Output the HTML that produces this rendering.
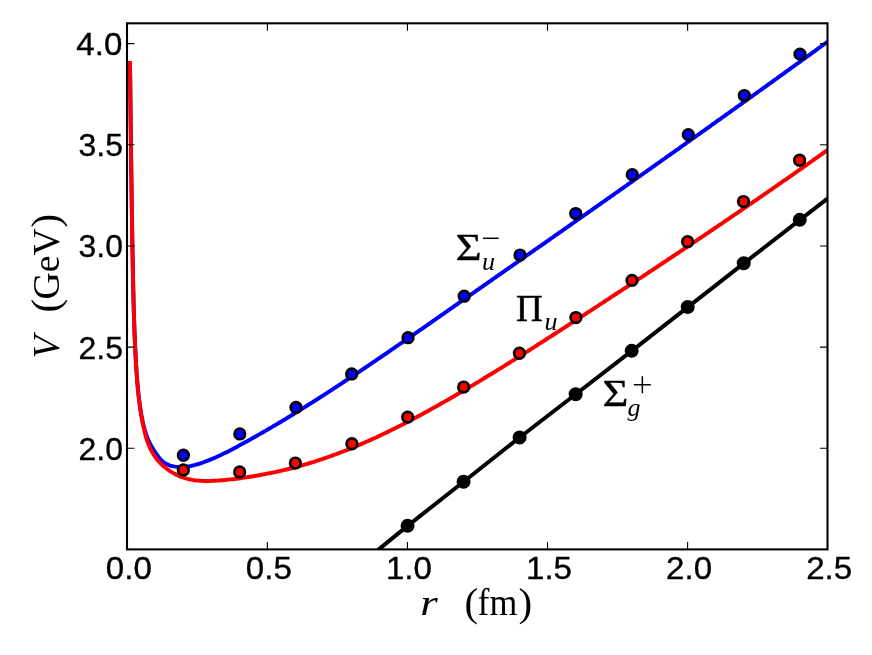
<!DOCTYPE html>
<html><head><meta charset="utf-8"><title>V(r)</title>
<style>html,body{margin:0;padding:0;background:#fff}svg{display:block;will-change:transform}</style></head>
<body>
<svg width="872" height="655" viewBox="0 0 872 655">
<rect width="872" height="655" fill="#fff"/>
<defs><clipPath id="ax"><rect x="127.0" y="23.3" width="700.5" height="526.1"/></clipPath></defs>
<g clip-path="url(#ax)" fill="none" stroke-linejoin="round" stroke-linecap="butt">
<path d="M376.60,551.35 L378.50,549.65 L392.50,538.15 L407.60,525.85 L463.60,481.75 L519.60,437.45 L575.70,394.25 L631.80,350.85 L687.80,307.15 L743.80,263.35 L799.90,219.85 L827.50,198.55" stroke="#000" stroke-width="3.95"/>
<circle cx="407.55" cy="525.85" r="5.65" fill="#000" stroke="#000" stroke-width="2.7"/>
<circle cx="463.58" cy="481.75" r="5.65" fill="#000" stroke="#000" stroke-width="2.7"/>
<circle cx="519.61" cy="437.45" r="5.65" fill="#000" stroke="#000" stroke-width="2.7"/>
<circle cx="575.64" cy="394.25" r="5.65" fill="#000" stroke="#000" stroke-width="2.7"/>
<circle cx="631.67" cy="350.85" r="5.65" fill="#000" stroke="#000" stroke-width="2.7"/>
<circle cx="687.70" cy="307.05" r="5.65" fill="#000" stroke="#000" stroke-width="2.7"/>
<circle cx="743.73" cy="263.25" r="5.65" fill="#000" stroke="#000" stroke-width="2.7"/>
<circle cx="799.76" cy="219.85" r="5.65" fill="#000" stroke="#000" stroke-width="2.7"/>
<path d="M129.98,60.96 L130.01,62.92 L130.03,64.88 L130.05,66.84 L130.07,68.80 L130.09,70.76 L130.12,72.72 L130.14,74.68 L130.16,76.64 L130.18,78.59 L130.20,80.55 L130.23,82.51 L130.25,84.47 L130.27,86.42 L130.29,88.38 L130.31,90.34 L130.34,92.29 L130.36,94.25 L130.38,96.20 L130.40,98.16 L130.42,100.11 L130.45,102.07 L130.47,104.02 L130.49,105.97 L130.51,107.93 L130.54,109.88 L130.56,111.83 L130.58,113.79 L130.60,115.74 L130.63,117.69 L130.65,119.65 L130.67,121.60 L130.69,123.55 L130.72,125.50 L130.74,127.45 L130.76,129.40 L130.79,131.36 L130.81,133.31 L130.83,135.26 L130.86,137.21 L130.88,139.16 L130.90,141.11 L130.93,143.06 L130.95,145.01 L130.98,146.96 L131.00,148.91 L131.02,150.86 L131.05,152.81 L131.07,154.76 L131.10,156.71 L131.12,158.66 L131.15,160.61 L131.17,162.56 L131.20,164.51 L131.22,166.46 L131.25,168.41 L131.27,170.35 L131.30,172.30 L131.32,174.25 L131.35,176.20 L131.38,178.15 L131.40,180.10 L131.43,182.05 L131.46,184.00 L131.48,185.95 L131.51,187.90 L131.54,189.85 L131.57,191.79 L131.59,193.74 L131.62,195.69 L131.65,197.64 L131.68,199.59 L131.71,201.54 L131.74,203.49 L131.76,205.44 L131.79,207.39 L131.82,209.34 L131.85,211.29 L131.88,213.24 L131.91,215.19 L131.94,217.14 L131.97,219.09 L132.00,221.04 L132.03,222.99 L132.07,224.94 L132.10,226.89 L132.13,228.84 L132.16,230.79 L132.19,232.74 L132.23,234.70 L132.26,236.65 L132.29,238.60 L132.33,240.55 L132.36,242.50 L132.39,244.46 L132.43,246.41 L132.46,248.36 L132.50,250.31 L132.53,252.27 L132.57,254.22 L132.60,256.17 L132.64,258.13 L132.68,260.08 L132.71,262.04 L132.75,263.99 L132.79,265.95 L132.82,267.90 L132.86,269.86 L132.90,271.81 L132.94,273.77 L132.98,275.73 L133.02,277.68 L133.06,279.64 L133.10,281.60 L133.14,283.55 L133.18,285.51 L133.22,287.47 L133.27,289.43 L133.31,291.38 L133.36,293.34 L133.40,295.30 L133.45,297.26 L133.50,299.22 L133.55,301.17 L133.60,303.13 L133.65,305.09 L133.71,307.05 L133.76,309.00 L133.82,310.96 L133.87,312.92 L133.93,314.88 L133.99,316.83 L134.05,318.79 L134.12,320.75 L134.18,322.71 L134.25,324.66 L134.32,326.62 L134.39,328.57 L134.46,330.53 L134.54,332.48 L134.61,334.44 L134.69,336.39 L134.77,338.35 L134.85,340.30 L134.94,342.26 L135.03,344.21 L135.12,346.16 L135.21,348.11 L135.30,350.06 L135.40,352.02 L135.50,353.97 L135.60,355.92 L135.71,357.87 L135.81,359.82 L135.92,361.76 L136.04,363.71 L136.15,365.66 L136.27,367.60 L136.40,369.55 L136.53,371.50 L136.66,373.44 L136.80,375.38 L136.94,377.33 L137.09,379.27 L137.25,381.21 L137.41,383.15 L137.58,385.09 L137.75,387.03 L137.93,388.97 L138.12,390.90 L138.32,392.84 L138.53,394.77 L138.75,396.71 L138.97,398.64 L139.20,400.57 L139.45,402.51 L139.70,404.44 L139.97,406.36 L140.24,408.29 L140.53,410.22 L140.82,412.15 L141.13,414.07 L141.64,416.32 L141.94,417.90 L142.25,419.48 L142.58,421.05 L142.92,422.62 L143.28,424.18 L143.65,425.74 L144.05,427.30 L144.46,428.84 L144.90,430.38 L145.37,431.92 L145.86,433.44 L146.37,434.96 L146.92,436.47 L147.50,437.96 L148.11,439.45 L148.76,440.93 L149.44,442.39 L150.17,443.84 L150.93,445.28 L151.72,446.70 L152.55,448.11 L153.41,449.50 L154.29,450.89 L155.19,452.25 L156.11,453.60 L157.05,454.94 L158.00,456.25 L158.99,457.52 L160.01,458.75 L161.09,459.91 L162.22,461.00 L163.42,462.00 L164.70,462.90 L166.06,463.71 L167.47,464.42 L168.95,465.04 L170.47,465.57 L172.03,466.01 L173.62,466.37 L175.23,466.66 L176.85,466.87 L178.47,467.00 L180.09,467.07 L181.71,467.07 L183.31,467.00 L184.91,466.88 L186.50,466.71 L188.08,466.48 L189.66,466.20 L191.22,465.89 L192.79,465.53 L194.34,465.14 L195.89,464.71 L197.43,464.26 L198.96,463.79 L200.49,463.29 L202.02,462.77 L203.53,462.24 L205.05,461.69 L206.55,461.13 L208.05,460.55 L209.55,459.96 L211.04,459.35 L212.52,458.73 L214.00,458.09 L215.48,457.44 L216.95,456.79 L218.42,456.12 L219.88,455.43 L221.34,454.74 L222.80,454.04 L224.25,453.33 L225.70,452.62 L227.14,451.89 L228.58,451.16 L230.02,450.42 L231.46,449.67 L232.89,448.92 L234.32,448.17 L235.75,447.41 L237.18,446.64 L238.60,445.88 L240.03,445.11 L241.45,444.33 L242.86,443.56 L244.28,442.78 L245.70,442.00 L247.11,441.22 L248.52,440.44 L249.93,439.66 L251.34,438.87 L252.75,438.08 L254.15,437.29 L255.56,436.50 L256.96,435.71 L258.36,434.91 L259.76,434.12 L261.16,433.32 L262.56,432.52 L263.95,431.71 L265.34,430.91 L266.74,430.10 L268.13,429.29 L269.52,428.48 L270.90,427.67 L272.29,426.86 L273.68,426.04 L275.06,425.23 L276.44,424.41 L277.82,423.59 L279.20,422.77 L280.58,421.94 L281.96,421.12 L283.34,420.29 L284.71,419.46 L286.08,418.63 L287.46,417.80 L288.83,416.97 L290.20,416.13 L291.57,415.29 L292.94,414.46 L294.30,413.62 L295.67,412.78 L297.04,411.93 L298.40,411.09 L299.76,410.25 L301.12,409.40 L302.49,408.55 L303.85,407.70 L305.21,406.85 L306.56,406.00 L307.92,405.15 L309.28,404.29 L310.63,403.43 L311.99,402.58 L313.34,401.72 L314.70,400.86 L316.05,400.00 L317.40,399.13 L318.75,398.27 L320.10,397.40 L321.45,396.54 L322.80,395.67 L324.15,394.80 L325.50,393.93 L326.84,393.06 L328.19,392.19 L329.53,391.31 L330.88,390.44 L332.22,389.56 L333.57,388.69 L334.91,387.81 L336.25,386.93 L337.60,386.05 L338.94,385.17 L340.28,384.29 L341.62,383.40 L342.96,382.52 L344.30,381.63 L345.64,380.75 L346.98,379.86 L348.32,378.97 L349.66,378.08 L351.00,377.19 L352.34,376.30 L353.67,375.41 L355.01,374.52 L356.35,373.63 L357.69,372.73 L359.02,371.84 L360.36,370.94 L361.70,370.04 L363.03,369.15 L364.37,368.25 L365.70,367.35 L367.04,366.45 L368.37,365.55 L369.71,364.65 L371.04,363.75 L372.38,362.84 L373.71,361.94 L375.04,361.04 L376.38,360.13 L377.71,359.23 L379.04,358.32 L380.38,357.41 L381.71,356.50 L383.04,355.60 L384.37,354.69 L385.70,353.78 L387.03,352.87 L388.37,351.96 L389.70,351.05 L391.03,350.14 L392.36,349.22 L393.69,348.31 L395.02,347.40 L396.35,346.48 L397.68,345.57 L399.01,344.65 L400.33,343.74 L401.66,342.82 L402.99,341.91 L404.32,340.99 L405.65,340.07 L406.98,339.16 L408.30,338.24 L409.63,337.32 L410.96,336.40 L412.28,335.48 L413.61,334.56 L414.94,333.64 L416.26,332.72 L417.59,331.80 L418.92,330.88 L420.24,329.96 L421.57,329.04 L422.89,328.12 L424.22,327.20 L425.54,326.27 L426.87,325.35 L428.19,324.43 L429.52,323.51 L430.84,322.58 L432.17,321.66 L433.49,320.74 L434.81,319.81 L436.14,318.89 L437.46,317.97 L438.78,317.04 L440.11,316.12 L441.43,315.19 L442.75,314.27 L444.07,313.35 L445.40,312.42 L446.72,311.50 L448.04,310.57 L449.36,309.65 L450.68,308.72 L452.01,307.80 L453.33,306.87 L454.65,305.95 L455.97,305.02 L457.29,304.10 L458.61,303.18 L459.93,302.25 L461.25,301.33 L462.57,300.40 L463.89,299.48 L465.21,298.55 L466.53,297.63 L467.85,296.71 L469.17,295.78 L470.49,294.86 L471.81,293.93 L473.13,293.01 L474.45,292.09 L475.77,291.16 L477.09,290.24 L478.41,289.32 L479.73,288.40 L481.04,287.47 L482.36,286.55 L483.68,285.63 L485.00,284.71 L486.32,283.78 L487.63,282.86 L488.95,281.94 L490.27,281.02 L491.59,280.10 L492.91,279.17 L494.22,278.25 L495.54,277.33 L496.86,276.41 L498.18,275.49 L499.49,274.57 L500.81,273.65 L502.13,272.73 L503.44,271.80 L504.76,270.88 L506.08,269.96 L507.39,269.04 L508.71,268.12 L510.03,267.20 L511.34,266.28 L512.66,265.36 L513.97,264.44 L515.29,263.52 L516.61,262.60 L517.92,261.68 L519.24,260.76 L520.55,259.84 L521.87,258.92 L523.19,258.00 L524.50,257.08 L525.82,256.16 L527.13,255.24 L528.45,254.31 L529.76,253.39 L531.08,252.47 L532.40,251.55 L533.71,250.63 L535.03,249.71 L536.34,248.79 L537.66,247.87 L538.97,246.95 L540.29,246.03 L541.60,245.11 L542.92,244.19 L544.23,243.27 L545.55,242.35 L546.86,241.43 L548.18,240.51 L549.49,239.59 L550.81,238.67 L552.12,237.75 L553.44,236.83 L554.75,235.90 L556.07,234.98 L557.38,234.06 L558.70,233.14 L560.01,232.22 L561.33,231.30 L562.64,230.38 L563.96,229.46 L565.27,228.53 L566.59,227.61 L567.90,226.69 L569.22,225.77 L570.53,224.85 L571.84,223.92 L573.16,223.00 L574.47,222.08 L575.79,221.16 L577.10,220.24 L578.42,219.31 L579.73,218.39 L581.05,217.47 L582.36,216.54 L583.68,215.62 L584.99,214.70 L586.31,213.77 L587.62,212.85 L588.94,211.93 L590.25,211.00 L591.57,210.08 L592.88,209.15 L594.20,208.23 L595.51,207.30 L596.83,206.38 L598.15,205.45 L599.46,204.53 L600.78,203.60 L602.09,202.68 L603.41,201.75 L604.72,200.83 L606.04,199.90 L607.35,198.98 L608.67,198.05 L609.98,197.12 L611.30,196.20 L612.62,195.27 L613.93,194.34 L615.25,193.42 L616.56,192.49 L617.88,191.56 L619.19,190.63 L620.51,189.71 L621.82,188.78 L623.14,187.85 L624.45,186.92 L625.77,186.00 L627.09,185.07 L628.40,184.14 L629.72,183.21 L631.03,182.28 L632.35,181.35 L633.66,180.42 L634.98,179.50 L636.29,178.57 L637.61,177.64 L638.93,176.71 L640.24,175.78 L641.56,174.85 L642.87,173.92 L644.19,172.99 L645.50,172.06 L646.82,171.13 L648.13,170.20 L649.45,169.27 L650.76,168.34 L652.08,167.41 L653.39,166.47 L654.71,165.54 L656.02,164.61 L657.34,163.68 L658.65,162.75 L659.97,161.82 L661.28,160.89 L662.60,159.96 L663.91,159.02 L665.23,158.09 L666.54,157.16 L667.86,156.23 L669.17,155.30 L670.49,154.36 L671.80,153.43 L673.11,152.50 L674.43,151.57 L675.74,150.63 L677.06,149.70 L678.37,148.77 L679.69,147.83 L681.00,146.90 L682.31,145.97 L683.63,145.03 L684.94,144.10 L686.26,143.17 L687.57,142.23 L688.88,141.30 L690.20,140.36 L691.51,139.43 L692.82,138.50 L694.14,137.56 L695.45,136.63 L696.76,135.69 L698.08,134.76 L699.39,133.82 L700.70,132.89 L702.02,131.95 L703.33,131.02 L704.64,130.08 L705.95,129.15 L707.27,128.21 L708.58,127.28 L709.89,126.34 L711.20,125.41 L712.51,124.47 L713.83,123.54 L715.14,122.60 L716.45,121.66 L717.76,120.73 L719.07,119.79 L720.39,118.86 L721.70,117.92 L723.01,116.98 L724.32,116.05 L725.63,115.11 L726.94,114.17 L728.25,113.24 L729.56,112.30 L730.87,111.36 L732.18,110.43 L733.49,109.49 L734.80,108.55 L736.11,107.62 L737.42,106.68 L738.73,105.74 L740.04,104.80 L741.35,103.87 L742.66,102.93 L743.97,101.99 L745.28,101.05 L746.59,100.12 L747.90,99.18 L749.21,98.24 L750.52,97.30 L751.83,96.36 L753.13,95.43 L754.44,94.49 L755.75,93.55 L757.06,92.61 L758.37,91.67 L759.67,90.74 L760.98,89.80 L762.29,88.86 L763.60,87.92 L764.90,86.98 L766.21,86.04 L767.52,85.10 L768.82,84.17 L770.13,83.23 L771.44,82.29 L772.74,81.35 L774.05,80.41 L775.35,79.47 L776.66,78.53 L777.96,77.59 L779.27,76.65 L780.57,75.71 L781.88,74.78 L783.18,73.84 L784.49,72.90 L785.79,71.96 L787.10,71.02 L788.40,70.08 L789.71,69.14 L791.01,68.20 L792.31,67.26 L793.62,66.32 L794.92,65.38 L796.22,64.44 L797.52,63.50 L798.83,62.56 L800.13,61.62 L801.43,60.68 L802.73,59.74 L804.03,58.80 L805.34,57.86 L806.64,56.92 L807.94,55.98 L809.24,55.04 L810.54,54.10 L811.84,53.16 L813.14,52.22 L814.44,51.28 L815.74,50.34 L817.04,49.40 L818.34,48.46 L819.64,47.52 L820.94,46.58 L822.24,45.64 L823.54,44.70 L824.83,43.76 L826.13,42.82 L827.43,41.88" stroke="#0000ff" stroke-width="3.95"/>
<circle cx="183.40" cy="455.25" r="5.3" fill="#0000ff" stroke="#000" stroke-width="2.7"/>
<circle cx="239.80" cy="433.95" r="5.3" fill="#0000ff" stroke="#000" stroke-width="2.7"/>
<circle cx="296.00" cy="407.45" r="5.3" fill="#0000ff" stroke="#000" stroke-width="2.7"/>
<circle cx="351.65" cy="373.95" r="5.3" fill="#0000ff" stroke="#000" stroke-width="2.7"/>
<circle cx="408.00" cy="337.70" r="5.3" fill="#0000ff" stroke="#000" stroke-width="2.7"/>
<circle cx="464.20" cy="296.20" r="5.3" fill="#0000ff" stroke="#000" stroke-width="2.7"/>
<circle cx="520.00" cy="255.05" r="5.3" fill="#0000ff" stroke="#000" stroke-width="2.7"/>
<circle cx="575.70" cy="213.55" r="5.3" fill="#0000ff" stroke="#000" stroke-width="2.7"/>
<circle cx="632.25" cy="174.65" r="5.3" fill="#0000ff" stroke="#000" stroke-width="2.7"/>
<circle cx="688.30" cy="134.65" r="5.3" fill="#0000ff" stroke="#000" stroke-width="2.7"/>
<circle cx="744.30" cy="95.55" r="5.3" fill="#0000ff" stroke="#000" stroke-width="2.7"/>
<circle cx="800.00" cy="54.15" r="5.3" fill="#0000ff" stroke="#000" stroke-width="2.7"/>
<path d="M129.98,60.96 L130.01,62.92 L130.03,64.88 L130.05,66.84 L130.07,68.80 L130.09,70.76 L130.12,72.72 L130.14,74.68 L130.16,76.64 L130.18,78.59 L130.20,80.55 L130.23,82.51 L130.25,84.47 L130.27,86.42 L130.29,88.38 L130.31,90.34 L130.34,92.29 L130.36,94.25 L130.38,96.20 L130.40,98.16 L130.42,100.11 L130.45,102.07 L130.47,104.02 L130.49,105.97 L130.51,107.93 L130.54,109.88 L130.56,111.83 L130.58,113.79 L130.60,115.74 L130.63,117.69 L130.65,119.65 L130.67,121.60 L130.69,123.55 L130.72,125.50 L130.74,127.45 L130.76,129.40 L130.79,131.36 L130.81,133.31 L130.83,135.26 L130.86,137.21 L130.88,139.16 L130.90,141.11 L130.93,143.06 L130.95,145.01 L130.98,146.96 L131.00,148.91 L131.02,150.86 L131.05,152.81 L131.07,154.76 L131.10,156.71 L131.12,158.66 L131.15,160.61 L131.17,162.56 L131.20,164.51 L131.22,166.46 L131.25,168.41 L131.27,170.35 L131.30,172.30 L131.32,174.25 L131.35,176.20 L131.38,178.15 L131.40,180.10 L131.43,182.05 L131.46,184.00 L131.48,185.95 L131.51,187.90 L131.54,189.85 L131.57,191.79 L131.59,193.74 L131.62,195.69 L131.65,197.64 L131.68,199.59 L131.71,201.54 L131.74,203.49 L131.76,205.44 L131.79,207.39 L131.82,209.34 L131.85,211.29 L131.88,213.24 L131.91,215.19 L131.94,217.14 L131.97,219.09 L132.00,221.04 L132.03,222.99 L132.07,224.94 L132.10,226.89 L132.13,228.84 L132.16,230.79 L132.19,232.74 L132.23,234.70 L132.26,236.65 L132.29,238.60 L132.33,240.55 L132.36,242.50 L132.39,244.46 L132.43,246.41 L132.46,248.36 L132.50,250.31 L132.53,252.27 L132.57,254.22 L132.60,256.17 L132.64,258.13 L132.68,260.08 L132.71,262.04 L132.75,263.99 L132.79,265.95 L132.82,267.90 L132.86,269.86 L132.90,271.81 L132.94,273.77 L132.98,275.73 L133.02,277.68 L133.06,279.64 L133.10,281.60 L133.14,283.55 L133.18,285.51 L133.22,287.47 L133.27,289.43 L133.31,291.38 L133.36,293.34 L133.40,295.30 L133.45,297.26 L133.50,299.22 L133.55,301.17 L133.60,303.13 L133.65,305.09 L133.71,307.05 L133.76,309.00 L133.82,310.96 L133.87,312.92 L133.93,314.88 L133.99,316.83 L134.05,318.79 L134.12,320.75 L134.18,322.71 L134.25,324.66 L134.32,326.62 L134.39,328.57 L134.46,330.53 L134.54,332.48 L134.61,334.44 L134.69,336.39 L134.77,338.35 L134.85,340.30 L134.94,342.26 L135.03,344.21 L135.12,346.16 L135.21,348.11 L135.30,350.06 L135.40,352.02 L135.50,353.97 L135.60,355.92 L135.71,357.87 L135.81,359.82 L135.92,361.76 L136.04,363.71 L136.15,365.66 L136.27,367.60 L136.40,369.55 L136.53,371.50 L136.66,373.44 L136.80,375.38 L136.94,377.33 L137.09,379.27 L137.25,381.21 L137.41,383.15 L137.58,385.09 L137.75,387.03 L137.93,388.97 L138.12,390.90 L138.32,392.84 L138.53,394.77 L138.75,396.71 L138.97,398.64 L139.20,400.57 L139.45,402.51 L139.70,404.44 L139.97,406.36 L140.24,408.29 L140.53,410.22 L140.82,412.15 L141.13,414.07 L141.45,415.99 L141.79,417.92 L142.13,419.84 L142.49,421.76 L142.86,423.68 L143.25,425.59 L143.65,427.51 L144.07,429.42 L144.51,431.33 L144.98,433.23 L145.47,435.12 L145.99,436.99 L146.55,438.86 L147.15,440.70 L147.79,442.53 L148.47,444.34 L149.20,446.13 L149.98,447.90 L150.81,449.64 L151.70,451.35 L152.65,453.03 L153.66,454.69 L154.74,456.30 L155.89,457.89 L157.10,459.43 L158.36,460.94 L159.69,462.40 L161.07,463.83 L162.51,465.20 L163.99,466.53 L165.53,467.81 L167.11,469.04 L168.74,470.22 L170.41,471.34 L172.11,472.41 L173.86,473.41 L175.64,474.36 L177.45,475.24 L179.28,476.06 L181.13,476.81 L182.99,477.49 L184.86,478.10 L186.73,478.65 L188.60,479.12 L190.48,479.54 L192.36,479.89 L194.25,480.19 L196.14,480.43 L198.03,480.63 L199.93,480.78 L201.83,480.89 L203.73,480.95 L205.64,480.99 L207.55,480.99 L209.46,480.96 L211.37,480.90 L213.29,480.83 L215.20,480.73 L217.12,480.62 L219.04,480.49 L220.97,480.34 L222.89,480.18 L224.82,480.01 L226.75,479.82 L228.68,479.61 L230.61,479.40 L232.54,479.18 L234.47,478.94 L236.41,478.69 L238.34,478.44 L240.28,478.18 L242.21,477.91 L244.15,477.63 L246.08,477.35 L248.02,477.05 L249.95,476.75 L251.89,476.44 L253.82,476.12 L255.76,475.80 L257.69,475.47 L259.63,475.12 L261.56,474.77 L263.49,474.42 L265.42,474.05 L267.35,473.68 L269.28,473.29 L271.21,472.90 L273.13,472.50 L275.05,472.09 L276.97,471.68 L278.89,471.25 L280.81,470.82 L282.73,470.38 L284.64,469.92 L286.55,469.46 L288.46,469.00 L290.36,468.52 L292.26,468.03 L294.16,467.54 L296.06,467.03 L297.95,466.52 L299.84,466.00 L301.73,465.47 L303.61,464.93 L305.49,464.38 L307.37,463.82 L309.24,463.26 L311.11,462.68 L312.98,462.10 L314.84,461.51 L316.71,460.92 L318.56,460.31 L320.42,459.70 L322.27,459.07 L324.12,458.44 L325.97,457.81 L327.82,457.16 L329.66,456.51 L331.50,455.85 L333.33,455.18 L335.16,454.51 L336.99,453.83 L338.82,453.14 L340.65,452.44 L342.47,451.74 L344.29,451.03 L346.11,450.31 L347.92,449.59 L349.73,448.86 L351.54,448.12 L353.35,447.38 L355.15,446.63 L356.95,445.87 L358.75,445.11 L360.55,444.34 L362.34,443.57 L364.13,442.79 L365.92,442.00 L367.71,441.21 L369.49,440.42 L371.27,439.61 L373.05,438.80 L374.83,437.99 L376.60,437.17 L378.37,436.34 L380.14,435.51 L381.91,434.68 L383.68,433.84 L385.44,432.99 L387.20,432.14 L388.96,431.29 L390.72,430.43 L392.47,429.56 L394.22,428.69 L395.97,427.82 L397.72,426.94 L399.47,426.06 L401.21,425.17 L402.95,424.28 L404.69,423.39 L406.43,422.49 L408.17,421.58 L409.90,420.68 L411.63,419.77 L413.36,418.85 L415.09,417.93 L416.82,417.01 L418.54,416.09 L420.26,415.16 L421.98,414.23 L423.70,413.29 L425.42,412.35 L427.13,411.41 L428.85,410.47 L430.56,409.52 L432.27,408.57 L433.98,407.62 L435.68,406.66 L437.39,405.71 L439.09,404.75 L440.79,403.78 L442.49,402.82 L444.19,401.85 L445.89,400.88 L447.59,399.91 L449.28,398.94 L450.97,397.96 L452.66,396.99 L454.35,396.01 L456.04,395.02 L457.73,394.04 L459.41,393.06 L461.10,392.07 L462.78,391.08 L464.46,390.09 L466.14,389.10 L467.82,388.10 L469.50,387.11 L471.18,386.11 L472.85,385.11 L474.52,384.11 L476.20,383.10 L477.87,382.10 L479.54,381.09 L481.21,380.08 L482.88,379.07 L484.54,378.06 L486.21,377.05 L487.87,376.04 L489.54,375.02 L491.20,374.00 L492.86,372.98 L494.52,371.96 L496.18,370.94 L497.84,369.92 L499.50,368.89 L501.16,367.87 L502.81,366.84 L504.47,365.81 L506.12,364.78 L507.77,363.75 L509.43,362.72 L511.08,361.69 L512.73,360.65 L514.38,359.62 L516.03,358.58 L517.68,357.54 L519.33,356.50 L520.98,355.46 L522.62,354.42 L524.27,353.38 L525.92,352.34 L527.56,351.29 L529.21,350.25 L530.85,349.20 L532.49,348.15 L534.14,347.10 L535.78,346.06 L537.42,345.01 L539.06,343.96 L540.70,342.91 L542.34,341.85 L543.98,340.80 L545.62,339.75 L547.26,338.69 L548.90,337.64 L550.54,336.58 L552.18,335.53 L553.82,334.47 L555.46,333.41 L557.10,332.36 L558.73,331.30 L560.37,330.24 L562.01,329.18 L563.65,328.12 L565.28,327.06 L566.92,326.00 L568.56,324.94 L570.19,323.88 L571.83,322.81 L573.47,321.75 L575.10,320.69 L576.74,319.63 L578.38,318.56 L580.01,317.50 L581.65,316.44 L583.29,315.37 L584.92,314.31 L586.56,313.24 L588.19,312.18 L589.83,311.11 L591.47,310.05 L593.10,308.98 L594.74,307.91 L596.37,306.85 L598.01,305.78 L599.64,304.71 L601.28,303.64 L602.91,302.57 L604.55,301.50 L606.18,300.43 L607.82,299.37 L609.45,298.29 L611.09,297.22 L612.72,296.15 L614.35,295.08 L615.99,294.01 L617.62,292.94 L619.25,291.87 L620.89,290.79 L622.52,289.72 L624.15,288.65 L625.79,287.57 L627.42,286.50 L629.05,285.42 L630.68,284.35 L632.32,283.27 L633.95,282.20 L635.58,281.12 L637.21,280.05 L638.84,278.97 L640.47,277.89 L642.11,276.81 L643.74,275.74 L645.37,274.66 L647.00,273.58 L648.63,272.50 L650.26,271.42 L651.89,270.34 L653.52,269.26 L655.15,268.18 L656.77,267.10 L658.40,266.02 L660.03,264.93 L661.66,263.85 L663.29,262.77 L664.92,261.69 L666.54,260.60 L668.17,259.52 L669.80,258.43 L671.43,257.35 L673.05,256.26 L674.68,255.18 L676.30,254.09 L677.93,253.01 L679.56,251.92 L681.18,250.83 L682.81,249.74 L684.43,248.66 L686.05,247.57 L687.68,246.48 L689.30,245.39 L690.93,244.30 L692.55,243.21 L694.17,242.12 L695.79,241.03 L697.42,239.94 L699.04,238.85 L700.66,237.75 L702.28,236.66 L703.90,235.57 L705.52,234.47 L707.14,233.38 L708.76,232.29 L710.38,231.19 L712.00,230.10 L713.62,229.00 L715.24,227.91 L716.86,226.81 L718.48,225.71 L720.09,224.61 L721.71,223.52 L723.33,222.42 L724.94,221.32 L726.56,220.22 L728.18,219.12 L729.79,218.02 L731.41,216.92 L733.02,215.82 L734.64,214.72 L736.25,213.62 L737.86,212.52 L739.48,211.42 L741.09,210.31 L742.70,209.21 L744.31,208.11 L745.92,207.00 L747.54,205.90 L749.15,204.79 L750.76,203.69 L752.37,202.58 L753.98,201.47 L755.58,200.37 L757.19,199.26 L758.80,198.15 L760.41,197.04 L762.02,195.94 L763.62,194.83 L765.23,193.72 L766.84,192.61 L768.44,191.50 L770.05,190.39 L771.65,189.28 L773.25,188.16 L774.86,187.05 L776.46,185.94 L778.06,184.83 L779.67,183.71 L781.27,182.60 L782.87,181.49 L784.47,180.37 L786.07,179.26 L787.67,178.14 L789.27,177.02 L790.87,175.91 L792.47,174.79 L794.06,173.67 L795.66,172.55 L797.26,171.44 L798.86,170.32 L800.45,169.20 L802.05,168.08 L803.64,166.96 L805.24,165.84 L806.83,164.71 L808.42,163.59 L810.02,162.47 L811.61,161.35 L813.20,160.22 L814.79,159.10 L816.38,157.98 L817.97,156.85 L819.56,155.73 L821.15,154.60 L822.74,153.48 L824.32,152.35 L825.91,151.22 L827.50,150.09" stroke="#ff0000" stroke-width="3.95"/>
<circle cx="183.35" cy="469.95" r="5.3" fill="#ff0000" stroke="#000" stroke-width="2.7"/>
<circle cx="239.65" cy="471.95" r="5.3" fill="#ff0000" stroke="#000" stroke-width="2.7"/>
<circle cx="295.40" cy="463.05" r="5.3" fill="#ff0000" stroke="#000" stroke-width="2.7"/>
<circle cx="351.90" cy="443.75" r="5.3" fill="#ff0000" stroke="#000" stroke-width="2.7"/>
<circle cx="407.70" cy="417.15" r="5.3" fill="#ff0000" stroke="#000" stroke-width="2.7"/>
<circle cx="463.65" cy="387.05" r="5.3" fill="#ff0000" stroke="#000" stroke-width="2.7"/>
<circle cx="519.40" cy="353.25" r="5.3" fill="#ff0000" stroke="#000" stroke-width="2.7"/>
<circle cx="575.90" cy="317.55" r="5.3" fill="#ff0000" stroke="#000" stroke-width="2.7"/>
<circle cx="632.00" cy="280.35" r="5.3" fill="#ff0000" stroke="#000" stroke-width="2.7"/>
<circle cx="687.60" cy="241.75" r="5.3" fill="#ff0000" stroke="#000" stroke-width="2.7"/>
<circle cx="743.50" cy="201.55" r="5.3" fill="#ff0000" stroke="#000" stroke-width="2.7"/>
<circle cx="799.60" cy="160.25" r="5.3" fill="#ff0000" stroke="#000" stroke-width="2.7"/>
</g>
<path d="M127.0,448.25h7.5M827.5,448.25h-7.5M127.0,347.10h7.5M827.5,347.10h-7.5M127.0,245.95h7.5M827.5,245.95h-7.5M127.0,144.80h7.5M827.5,144.80h-7.5M127.0,43.65h7.5M827.5,43.65h-7.5M267.38,549.4v-7.5M267.38,23.3v7.5M407.45,549.4v-7.5M407.45,23.3v7.5M547.52,549.4v-7.5M547.52,23.3v7.5M687.60,549.4v-7.5M687.60,23.3v7.5" stroke="#000" stroke-width="1.1" fill="none"/>
<rect x="127.0" y="23.3" width="700.5" height="526.1" fill="none" stroke="#000" stroke-width="2.1"/>
<g font-family="Liberation Sans, sans-serif" font-size="32" fill="#000" stroke="#000" stroke-width="0.35">
<text x="122.9" y="459.75" text-anchor="end" textLength="44.4" lengthAdjust="spacingAndGlyphs">2.0</text>
<text x="122.9" y="358.60" text-anchor="end" textLength="44.4" lengthAdjust="spacingAndGlyphs">2.5</text>
<text x="122.9" y="257.45" text-anchor="end" textLength="44.4" lengthAdjust="spacingAndGlyphs">3.0</text>
<text x="122.9" y="156.30" text-anchor="end" textLength="44.4" lengthAdjust="spacingAndGlyphs">3.5</text>
<text x="122.3" y="55.15" text-anchor="end" textLength="46" lengthAdjust="spacingAndGlyphs">4.0</text>
<text x="128.80" y="579.2" text-anchor="middle" textLength="46" lengthAdjust="spacingAndGlyphs">0.0</text>
<text x="268.88" y="579.2" text-anchor="middle" textLength="46" lengthAdjust="spacingAndGlyphs">0.5</text>
<text x="408.95" y="579.2" text-anchor="middle" textLength="46" lengthAdjust="spacingAndGlyphs">1.0</text>
<text x="549.02" y="579.2" text-anchor="middle" textLength="46" lengthAdjust="spacingAndGlyphs">1.5</text>
<text x="689.10" y="579.2" text-anchor="middle" textLength="46" lengthAdjust="spacingAndGlyphs">2.0</text>
<text x="829.17" y="579.2" text-anchor="middle" textLength="46" lengthAdjust="spacingAndGlyphs">2.5</text>
</g>
<g font-family="Liberation Serif, serif" font-size="37" fill="#000">
<text transform="translate(420.3,615) scale(1.25,1)" font-size="36" font-style="italic">r</text>
<text transform="translate(464.6,615.8) scale(1.0,1)" font-size="41">(</text>
<text transform="translate(477.6,615) scale(0.97,1)" font-size="37">fm</text>
<text transform="translate(518.6,615.8) scale(1.0,1)" font-size="41">)</text>
<g transform="translate(58.5,0) rotate(-90)">
<text transform="translate(-358.2,0) scale(1.0,1)" font-size="37" font-style="italic">V</text>
<text transform="translate(-312.6,0.8) scale(1.0,1)" font-size="41">(</text>
<text transform="translate(-299.6,0) scale(1.02,1)" font-size="37">GeV</text>
<text transform="translate(-227.6,0.8) scale(1.0,1)" font-size="41">)</text>
</g>
<text transform="translate(455.8,260.4) scale(1.2,1)" font-size="37" stroke="#000" stroke-width="0.4">Σ</text>
<text transform="translate(482,270) scale(1.0,1)" font-size="26" font-style="italic">u</text>
<path d="M483.1,238.3h15.6" stroke="#000" stroke-width="1.5" fill="none"/>
<text transform="translate(516,320.6) scale(1.0,1)" font-size="37" stroke="#000" stroke-width="0.5">Π</text>
<text transform="translate(544.5,329.8) scale(1.0,1)" font-size="26" font-style="italic">u</text>
<text transform="translate(602.4,406.4) scale(1.2,1)" font-size="37" stroke="#000" stroke-width="0.4">Σ</text>
<text transform="translate(627.6,415.6) scale(1.0,1)" font-size="26" font-style="italic">g</text>
<path d="M633.9,384.7h16.9M642.35,376.2v17" stroke="#000" stroke-width="1.5" fill="none"/>
</g>
</svg>
</body></html>
